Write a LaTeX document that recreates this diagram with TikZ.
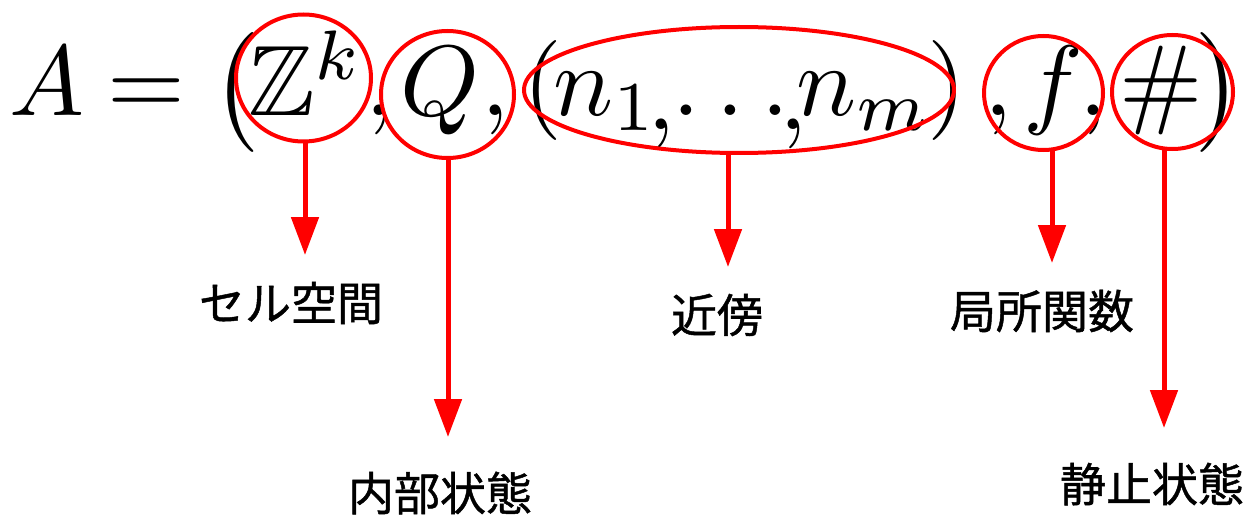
\documentclass[tikz,border=0pt]{standalone}
\usepackage{amssymb}
\usepackage{graphicx}
\usepackage{fontspec}
\newfontfamily\jpfont[FakeBold=1]{Noto Sans CJK JP}
\usetikzlibrary{shapes.geometric,arrows.meta}
\newcommand{\bigmath}[1]{\scalebox{10}{$#1$}}
\begin{document}
\begin{tikzpicture}[x=1pt,y=-1pt,
  glyph/.style={inner sep=0pt, outer sep=0pt, anchor=base},
  ring/.style={draw=red, line width=4pt, ellipse, inner sep=0pt, outer sep=0pt},
  pointer/.style={draw=red, line width=5pt, -{Triangle[length=38pt,width=27pt]}},
  jplabel/.style={font=\jpfont\fontsize{46}{46}\selectfont, inner sep=0pt, anchor=center}]
\useasboundingbox (0,0) rectangle (1251,516);
% formula
\node[glyph] (A) at (47,116) {\bigmath{A}};
\node[glyph] (eq) at (146,116) {\bigmath{=}};
\node[glyph] (lp) at (235,118) {\bigmath{\bigl(}};
\node[glyph] (Zk) at (306,116) {\bigmath{\mathbb{Z}^k}};
\node[glyph] (cm1) at (379,116) {\bigmath{,}};
\node[glyph] (Q) at (440,116) {\bigmath{Q}};
\node[glyph] (cm2) at (495,116) {\bigmath{,}};
\node[glyph] (lp2) at (543,116) {\bigmath{(}};
\node[glyph] (n1) at (606,116) {\bigmath{n_1}};
\node[glyph] (cm3) at (661,130) {\bigmath{,}};
\node[glyph] (dots) at (731,116) {\bigmath{\ldots}};
\node[glyph] (cm4) at (793,130) {\bigmath{,}};
\node[glyph] (nm) at (864,116) {\bigmath{n_m}};
\node[glyph] (rp2) at (947,116) {\bigmath{)}};
\node[glyph] (cm5) at (998,116) {\bigmath{,}};
\node[glyph] (f) at (1053,116) {\bigmath{f}};
\node[glyph] (cm6) at (1093,116) {\bigmath{,}};
\node[glyph] (hash) at (1161,116) {\bigmath{\#}};
\node[glyph] (rp) at (1219,118) {\bigmath{\bigr)}};
% rings
\node[ring, minimum width=135pt, minimum height=127pt] (c1) at (303.5,78) {};
\node[ring, minimum width=133pt, minimum height=127pt] (c2) at (447.5,94.5) {};
\node[ring, minimum width=430pt, minimum height=126pt] (c3) at (739,90) {};
\node[ring, minimum width=119pt, minimum height=114pt] (c4) at (1043.5,93) {};
\node[ring, minimum width=121pt, minimum height=114pt] (c5) at (1172.5,92) {};
% tips
\coordinate (t1) at (305,255);
\coordinate (t2) at (448,437);
\coordinate (t3) at (728,267);
\coordinate (t4) at (1052,263);
\coordinate (t5) at (1164,428);
\draw[pointer] (c1.south -| t1) -- (t1);
\draw[pointer] (c2.south -| t2) -- (t2);
\draw[pointer] (c3.south -| t3) -- (t3);
\draw[pointer] (c4.south -| t4) -- (t4);
\draw[pointer] (c5.south -| t5) -- (t5);
% labels
\node[jplabel] (L1) at (291,303) {セル空間};
\node[jplabel] (L2) at (440,493) {内部状態};
\node[jplabel] (L3) at (717,315) {近傍};
\node[jplabel] (L4) at (1042,311) {局所関数};
\node[jplabel] (L5) at (1152,484) {静止状態};
\end{tikzpicture}
\end{document}
